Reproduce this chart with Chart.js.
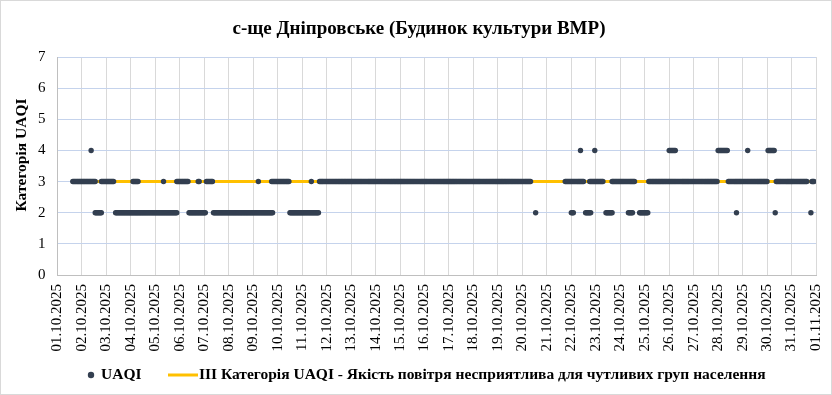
<!DOCTYPE html>
<html lang="uk">
<head>
<meta charset="UTF-8">
<title>с-ще Дніпровське (Будинок культури ВМР)</title>
<script src="https://cdn.jsdelivr.net/npm/chart.js"></script>
<style>
  html, body { margin: 0; padding: 0; background: #fff; }
  #wrap { width: 832px; height: 395px; }
</style>
</head>
<body>
<div id="wrap"><canvas id="uaqiChart" width="832" height="395"></canvas></div>
<script>
// Заголовок і підписи
const chartTitle = 'с-ще Дніпровське (Будинок культури ВМР)';
const yTitle = 'Категорія UAQI';
const seriesName = 'UAQI';
const limitName = 'III Категорія UAQI - Якість повітря несприятлива для чутливих груп населення';

// Мітки осі X (одна на добу, вісь у годинах від 01.10.2025 00:00)
const dateLabels = [
  '01.10.2025', '02.10.2025', '03.10.2025', '04.10.2025', '05.10.2025', '06.10.2025',
  '07.10.2025', '08.10.2025', '09.10.2025', '10.10.2025', '11.10.2025', '12.10.2025',
  '13.10.2025', '14.10.2025', '15.10.2025', '16.10.2025', '17.10.2025', '18.10.2025',
  '19.10.2025', '20.10.2025', '21.10.2025', '22.10.2025', '23.10.2025', '24.10.2025',
  '25.10.2025', '26.10.2025', '27.10.2025', '28.10.2025', '29.10.2025', '30.10.2025',
  '31.10.2025', '01.11.2025'
];

// Погодинні значення UAQI, записані відрізками однакових значень:
// година початку, година кінця (включно), категорія
const runStart = [15, 33, 37, 43, 57, 74, 104, 117, 129, 138, 146, 153, 197, 210, 228, 249, 257,
  469, 498, 504, 513, 518, 522, 527, 538, 544, 560, 571, 580, 600, 648, 658, 666, 677, 697, 704, 705, 739, 740];
const runEnd   = [37, 33, 43, 55, 117, 79, 104, 128, 145, 139, 152, 211, 197, 227, 256, 249, 464,
  469, 516, 506, 513, 523, 535, 527, 544, 566, 564, 579, 647, 606, 657, 696, 666, 677, 703, 704, 735, 739, 742];
const runValue = [3, 4, 2, 3, 2, 3, 3, 3, 2, 3, 3, 2, 3, 3, 2, 3, 3,
  2, 3, 2, 4, 2, 3, 4, 2, 3, 2, 2, 3, 4, 4, 3, 2, 4, 4, 2, 3, 2, 3];

// Межа III категорії
const limitValue = 3;
const limitFrom = 15;
const limitTo = 743;

const hoursTotal = 744;

let points = [];
for (let i = 0; i < runStart.length; i++) {
  for (let h = runStart[i]; h <= runEnd[i]; h++) {
    points.push({ x: h, y: runValue[i] });
  }
}

const dotColor = '#333f50';
const limitColor = '#ffc000';
const serif = '"Liberation Serif", "Times New Roman", serif';

// малює рамку, заголовок, підписи дат, назву осі Y та легенду
const excelDecor = {
  id: 'excelDecor',
  beforeDraw(chart) {
    const c = chart.ctx;
    c.save();
    c.fillStyle = '#fff';
    c.fillRect(0, 0, chart.width, chart.height);
    c.strokeStyle = '#d9d9d9';
    c.lineWidth = 1;
    c.strokeRect(0.5, 0.5, chart.width - 1, chart.height - 1);
    c.restore();
  },
  afterDraw(chart) {
    const c = chart.ctx;
    const xs = chart.scales.x;
    const area = chart.chartArea;
    c.save();
    c.fillStyle = '#000';

    // заголовок
    c.font = 'bold 19px ' + serif;
    c.textAlign = 'center';
    c.textBaseline = 'middle';
    c.fillText(chartTitle, 419, 29);

    // назва осі Y
    c.save();
    c.font = 'bold 15.5px ' + serif;
    c.translate(22, 155);
    c.rotate(-Math.PI / 2);
    c.fillText(yTitle, 0, 0);
    c.restore();

    // дати, повернуті на -90
    c.font = '15px ' + serif;
    c.textAlign = 'right';
    c.textBaseline = 'middle';
    dateLabels.forEach((lbl, d) => {
      const px = xs.getPixelForValue(d * 24);
      c.save();
      c.translate(px, area.bottom + 9);
      c.rotate(-Math.PI / 2);
      c.fillText(lbl, 0, 0);
      c.restore();
    });

    // легенда
    const ly = 375;
    c.font = 'bold 15.5px ' + serif;
    c.textAlign = 'left';
    c.fillStyle = dotColor;
    c.beginPath();
    c.arc(91, ly, 3.2, 0, Math.PI * 2);
    c.fill();
    c.fillStyle = '#000';
    c.fillText(seriesName, 101, ly);
    c.strokeStyle = limitColor;
    c.lineWidth = 3;
    c.beginPath();
    c.moveTo(168, ly);
    c.lineTo(198, ly);
    c.stroke();
    c.fillText(limitName, 199, ly);
    c.restore();
  }
};

const ctx = document.getElementById('uaqiChart').getContext('2d');
const myChart = new Chart(ctx, {
  type: 'scatter',
  data: {
    datasets: [
      {
        label: seriesName,
        data: points,
        backgroundColor: dotColor,
        borderWidth: 0,
        pointRadius: 2.7,
        order: 0
      },
      {
        type: 'line',
        label: limitName,
        data: [{ x: limitFrom, y: limitValue }, { x: limitTo, y: limitValue }],
        borderColor: limitColor,
        borderWidth: 3,
        pointRadius: 0,
        fill: false,
        order: 1
      }
    ]
  },
  options: {
    responsive: false,
    animation: false,
    devicePixelRatio: 1,
    layout: { padding: { top: 57, left: 10, right: 16, bottom: 0 } },
    plugins: {
      legend: { display: false },
      title: { display: false },
      tooltip: { enabled: false }
    },
    scales: {
      x: {
        type: 'linear',
        min: 0,
        max: hoursTotal,
        ticks: { stepSize: 24, display: false },
        grid: { color: '#d9d9d9', drawTicks: false },
        border: { color: '#bfbfbf' },
        afterFit(scale) { scale.height = 120; }
      },
      y: {
        min: 0,
        max: 7,
        ticks: {
          stepSize: 1,
          padding: 12,
          color: '#000',
          font: { family: serif, size: 15 }
        },
        grid: { color: '#c5d3ec', drawTicks: false },
        border: { color: '#bfbfbf' },
        title: { display: false },
        afterFit(scale) { scale.width = 47.5; }
      }
    }
  },
  plugins: [excelDecor]
});
</script>
</body>
</html>
